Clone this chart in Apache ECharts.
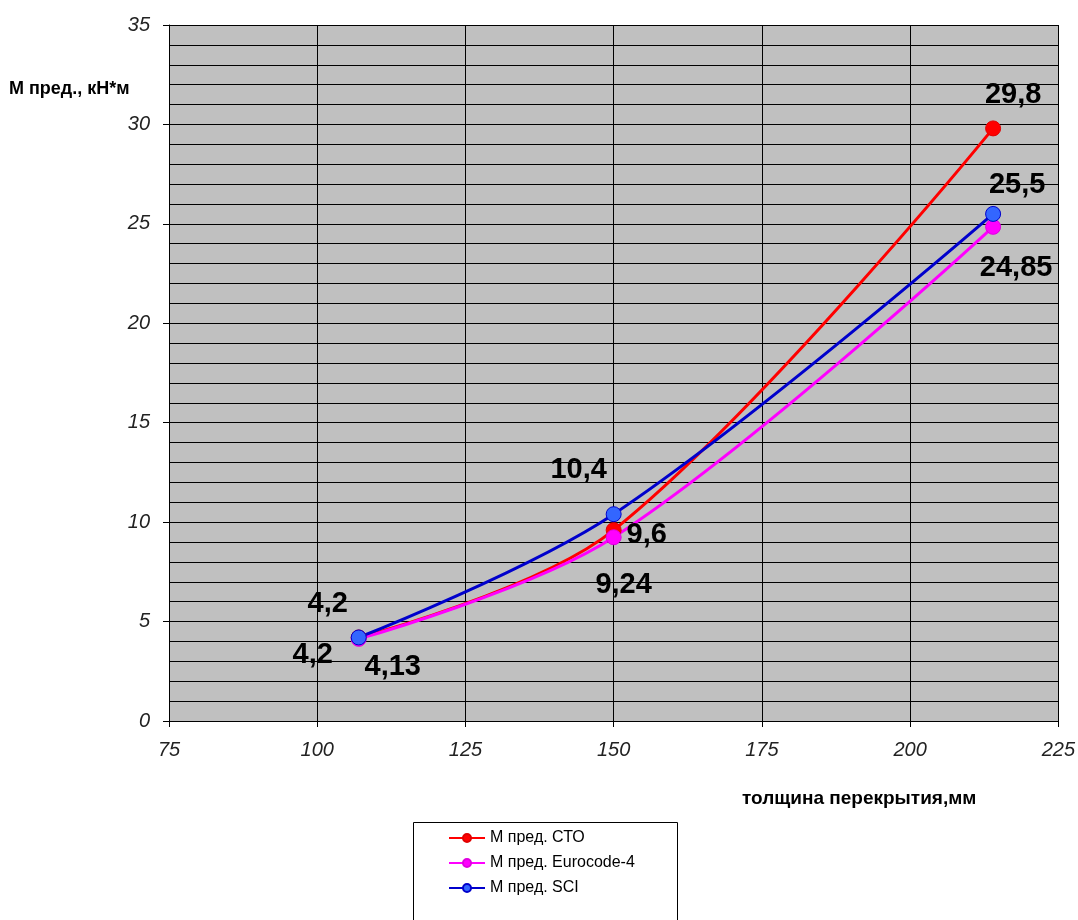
<!DOCTYPE html>
<html>
<head>
<meta charset="utf-8">
<script src="https://cdn.jsdelivr.net/npm/echarts@6/dist/echarts.min.js"></script>
<style>
html,body{margin:0;padding:0;background:#fff;}
#chart{width:1078px;height:920px;}
</style>
</head>
<body>
<div id="chart"></div>
<script>
// ---- data ----
const thickness = [107, 150, 214];
const seriesNames = ['М пред. СТО', 'М пред. Eurocode-4', 'М пред. SCI'];
const ctoValues = [4.2, 9.6, 29.8];
const euroValues = [4.13, 9.24, 24.85];
const sciValues = [4.2, 10.4, 25.5];
const labelTexts = {
  cto: ['4,2', '9,6', '29,8'],
  euro: ['4,13', '9,24', '24,85'],
  sci: ['4,2', '10,4', '25,5']
};
const xTicks = [75, 100, 125, 150, 175, 200, 225];
const yTicks = [0, 5, 10, 15, 20, 25, 30, 35];
const yAxisTitle = 'М пред., кН*м';
const xAxisTitle = 'толщина перекрытия,мм';

// ---- presentation ----
const FONT = '"Liberation Sans", Arial, sans-serif';
const labelOffsets = {
  cto: [[-46, 18], [33, 5], [20, -33]],
  euro: [[34, 28], [10, 48], [23, 41]],
  sci: [[-31, -33], [-35, -44], [24, -29]]
};

function buildData(values, key) {
  return values.map((v, i) => ({
    value: [thickness[i], v],
    label: {
      show: true,
      formatter: labelTexts[key][i],
      position: 'inside',
      offset: labelOffsets[key][i],
      color: '#000',
      fontFamily: FONT,
      fontWeight: 'bold',
      fontSize: 29
    }
  }));
}

function makeSeries(name, values, key, lineColor, markerColor, borderColor) {
  return {
    name: name,
    type: 'line',
    smooth: 0.35,
    data: buildData(values, key),
    symbol: 'circle',
    symbolSize: 15,
    lineStyle: { color: lineColor, width: 3 },
    itemStyle: { color: markerColor, borderColor: borderColor, borderWidth: 1 },
    emphasis: { disabled: true },
    z: 3
  };
}

const chart = echarts.init(document.getElementById('chart'));
chart.setOption({
  animation: false,
  backgroundColor: '#fff',
  grid: {
    left: 169, right: 17, top: 25, bottom: 199,
    show: true, backgroundColor: '#C0C0C0', borderWidth: 0
  },
  legend: {
    orient: 'vertical',
    left: 448, top: 830,
    padding: 0,
    itemGap: 9,
    itemWidth: 36,
    itemHeight: 10,
    textStyle: { fontFamily: FONT, fontSize: 16, color: '#000' },
    data: seriesNames
  },
  xAxis: {
    type: 'value',
    min: xTicks[0], max: xTicks[xTicks.length - 1], interval: 25,
    axisLine: { show: true, onZero: false, lineStyle: { color: '#000', width: 1 } },
    axisTick: { show: true, length: 6, lineStyle: { color: '#000' } },
    axisLabel: {
      margin: 19, fontFamily: FONT, fontSize: 20, fontStyle: 'italic', color: '#222'
    },
    splitLine: { show: true, lineStyle: { color: '#000', width: 1 } }
  },
  yAxis: {
    type: 'value',
    min: yTicks[0], max: yTicks[yTicks.length - 1], interval: 5,
    axisLine: { show: true, onZero: false, lineStyle: { color: '#000', width: 1 } },
    axisTick: { show: true, length: 6, lineStyle: { color: '#000' } },
    axisLabel: {
      margin: 19, fontFamily: FONT, fontSize: 20, fontStyle: 'italic', color: '#222'
    },
    splitLine: { show: true, lineStyle: { color: '#000', width: 1 } },
    minorTick: { show: false, splitNumber: 5 },
    minorSplitLine: { show: true, lineStyle: { color: '#000', width: 1 } }
  },
  graphic: [
    {
      type: 'rect', left: 413, top: 822, z: -1,
      shape: { width: 264, height: 120 },
      style: { fill: '#fff', stroke: '#000', lineWidth: 1 }
    },
    {
      type: 'text', left: 9, top: 80,
      style: { text: yAxisTitle, fontFamily: FONT, fontWeight: 'bold', fontSize: 18, fill: '#000' }
    },
    {
      type: 'text', left: 742, top: 789,
      style: { text: xAxisTitle, fontFamily: FONT, fontWeight: 'bold', fontSize: 19, fill: '#000' }
    }
  ],
  series: [
    makeSeries(seriesNames[0], ctoValues, 'cto', '#FF0000', '#FF0000', '#E00000'),
    makeSeries(seriesNames[1], euroValues, 'euro', '#FF00FF', '#FF00FF', '#E000E0'),
    makeSeries(seriesNames[2], sciValues, 'sci', '#0000CC', '#3366FF', '#0000CC')
  ]
});
</script>
</body>
</html>
